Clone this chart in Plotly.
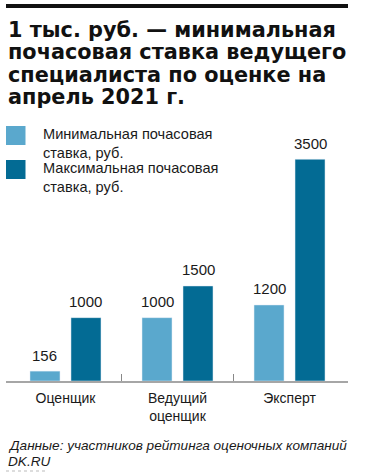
import plotly.graph_objects as go

# ---- data ----
categories = ["Оценщик", "Ведущий<br>оценщик", "Эксперт"]
series_names = ["Минимальная почасовая<br>ставка, руб.", "Максимальная почасовая<br>ставка, руб."]
min_rate = [156, 1000, 1200]
max_rate = [1000, 1500, 3500]
title_lines = ["1 тыс. руб. — минимальная", "почасовая ставка ведущего",
               "специалиста по оценке на", "апрель 2021 г."]
source_lines = ["Данные: участников рейтинга оценочных компаний", "DK.RU"]

COL_MIN = "#5aa8cd"
COL_MAX = "#036b94"
W, H = 366, 475
ML, MR, MT, MB = 6, 18, 120, 94
PH = H - MT - MB
PW = W - ML - MR
BARGAP = 0.268
BARGROUPGAP = 0.268
XR = [-0.531, 2.522]

def py(ypx):
    return (H - MB - ypx) / PH

def px(xpx):
    return (xpx - ML) / PW

xs = list(range(len(categories)))
fig = go.Figure()
fig.add_trace(go.Bar(x=xs, y=min_rate, name=series_names[0], marker_color=COL_MIN,
                     showlegend=False))
fig.add_trace(go.Bar(x=xs, y=max_rate, name=series_names[1], marker_color=COL_MAX,
                     showlegend=False))
# invisible trace to carry boundary ticks on overlay axis
fig.add_trace(go.Scatter(x=[XR[0]], y=[0], xaxis="x2", mode="markers",
                         marker=dict(opacity=0), showlegend=False, hoverinfo="skip"))

body_font = "Liberation Sans, Arial, sans-serif"
title_font = "DejaVu Sans, Liberation Sans, sans-serif"
ann = []
# title lines
title_y = [30, 52.3, 74.6, 97]
for t, yy in zip(title_lines, title_y):
    ann.append(dict(text="<b>" + t + "</b>", x=0, y=py(yy), xref="paper", yref="paper",
                    xanchor="left", yanchor="middle", showarrow=False,
                    font=dict(family=title_font, size=20.8, color="#111")))
# legend
leg_top = [124, 158]
for name, yy in zip(series_names, leg_top):
    ann.append(dict(text=name, x=px(41), y=py(yy), xref="paper", yref="paper",
                    xanchor="left", yanchor="top", align="left", showarrow=False,
                    font=dict(family=body_font, size=14.6, color="#1a1a1a")))
# value labels
off = (1 - BARGAP) / 4
for i in xs:
    for vals, d in ((min_rate, -off), (max_rate, off)):
        ann.append(dict(text=str(vals[i]), x=i + d, y=vals[i], xref="x", yref="y",
                        yanchor="middle", yshift=16, showarrow=False,
                        font=dict(family=body_font, size=15, color="#1a1a1a")))
# source
src_y = [446, 461.5]
for t, yy in zip(source_lines, src_y):
    ann.append(dict(text="<i>" + t + "</i>", x=0, y=py(yy), xref="paper", yref="paper",
                    xanchor="left", yanchor="middle", showarrow=False,
                    font=dict(family=body_font, size=13.6, color="#1a1a1a")))

shapes = [
    dict(type="rect", xref="paper", yref="paper", x0=0, x1=1, y0=py(8), y1=py(4),
         fillcolor="#111", line=dict(width=0)),
    dict(type="rect", xref="paper", yref="paper", x0=0, x1=px(25.5), y0=py(145), y1=py(126),
         fillcolor=COL_MIN, line=dict(width=0)),
    dict(type="rect", xref="paper", yref="paper", x0=0, x1=px(25.5), y0=py(179), y1=py(160),
         fillcolor=COL_MAX, line=dict(width=0)),
    dict(type="line", xref="paper", yref="paper", x0=0, x1=px(48), y0=py(471), y1=py(471),
         line=dict(color="#bbbbbb", width=1, dash="dot")),
]

fig.update_layout(
    width=W, height=H,
    margin=dict(l=ML, r=MR, t=MT, b=MB, pad=0),
    paper_bgcolor="white", plot_bgcolor="white",
    barmode="group", bargap=BARGAP, bargroupgap=BARGROUPGAP,
    xaxis=dict(range=XR, tickvals=xs, ticktext=categories, showline=True,
               linecolor="#a6a6a6", linewidth=1.5, ticks="", showgrid=False,
               ticklabelstandoff=3,
               zeroline=False, tickfont=dict(family=body_font, size=14, color="#1a1a1a")),
    xaxis2=dict(range=XR, overlaying="x", anchor="y", side="bottom",
                tickvals=[0.5, 1.5], ticks="inside", ticklen=7, tickwidth=1,
                tickcolor="#888", showticklabels=False, showgrid=False,
                zeroline=False, showline=False),
    yaxis=dict(range=[0, 4120], visible=False, showgrid=False, zeroline=False),
    annotations=ann, shapes=shapes, showlegend=False,
)

fig.write_html("out.html", config={"displayModeBar": False},
               post_script="document.body.style.margin='0';document.body.style.overflow='hidden';")
